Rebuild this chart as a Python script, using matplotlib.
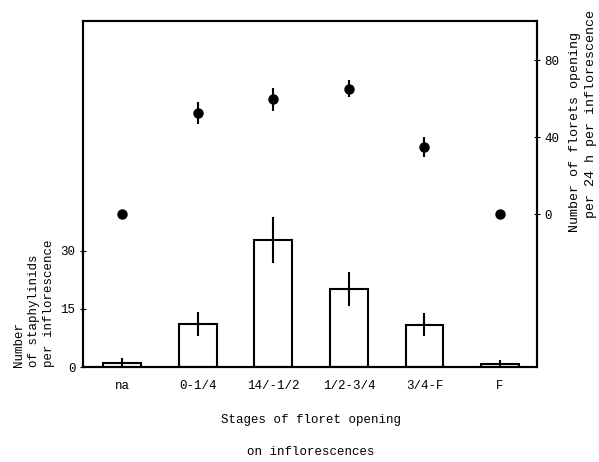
"""Staphylinids and floret opening by inflorescence stage."""
import matplotlib
matplotlib.use('Agg')
import matplotlib.pyplot as plt
import numpy as np

plt.rcParams['font.family'] = ['Liberation Mono', 'DejaVu Sans Mono']

# stages of floret opening
stages = ['na', '0-1/4', '14/-1/2', '1/2-3/4', '3/4-F', 'F']

# staphylinids per inflorescence (bars, left axis)
staph_mean = [1.0, 11.1, 32.8, 20.2, 10.9, 0.8]
staph_err = [1.2, 3.1, 6.0, 4.4, 3.0, 1.0]

# florets opening per 24 h per inflorescence (dots, right axis)
florets_mean = [0, 52.5, 59.7, 65.0, 34.8, 0]
florets_err = [0, 5.5, 6.0, 4.4, 5.0, 0]

x = np.arange(len(stages))

fig = plt.figure(figsize=(5.99, 4.62), dpi=100)
ax = fig.add_axes([0.1386, 0.2056, 0.7579, 0.7489])

ax.bar(x, staph_mean, width=0.5, color='white', edgecolor='black', linewidth=1.5)
ax.errorbar(x, staph_mean, yerr=staph_err, fmt='none', ecolor='black',
            elinewidth=1.5, capsize=0)
ax.set_xlim(-0.52, 5.49)
ax.set_ylim(0, 89.4)
ax.set_yticks([0, 15, 30])
ax.set_xticks(x)
ax.set_xticklabels(stages, fontsize=9)
ax.tick_params(axis='x', length=0, pad=9)
ax.tick_params(axis='y', direction='inout', length=5, labelsize=9, pad=3)
for s in ax.spines.values():
    s.set_linewidth(1.5)

ax2 = ax.twinx()
ax2.errorbar(x, florets_mean, yerr=florets_err, fmt='o', color='black',
             markersize=6.5, elinewidth=1.5, capsize=0)
ax2.set_ylim(-79.5, 100.3)
ax2.set_yticks([0, 40, 80])
ax2.tick_params(axis='y', direction='inout', length=5, labelsize=9, pad=3)
for s in ax2.spines.values():
    s.set_linewidth(1.5)

fig.text(34 / 599, 1 - 367 / 462, 'Number\nof staphylinids\nper inflorescence',
         rotation=90, ha='center', va='bottom', multialignment='left',
         fontsize=9, linespacing=1.35)
fig.text(575 / 599, 1 - 232 / 462, 'Number of florets opening',
         rotation=90, ha='center', va='bottom', fontsize=9.6)
fig.text(591 / 599, 1 - 218 / 462, 'per 24 h per inflorescence',
         rotation=90, ha='center', va='bottom', fontsize=9.6)

fig.text(311 / 599, 1 - 420 / 462, 'Stages of floret opening',
         ha='center', va='center', fontsize=9)
fig.text(311 / 599, 1 - 452 / 462, 'on inflorescences',
         ha='center', va='center', fontsize=9)

fig.savefig('out.png', dpi=100)
